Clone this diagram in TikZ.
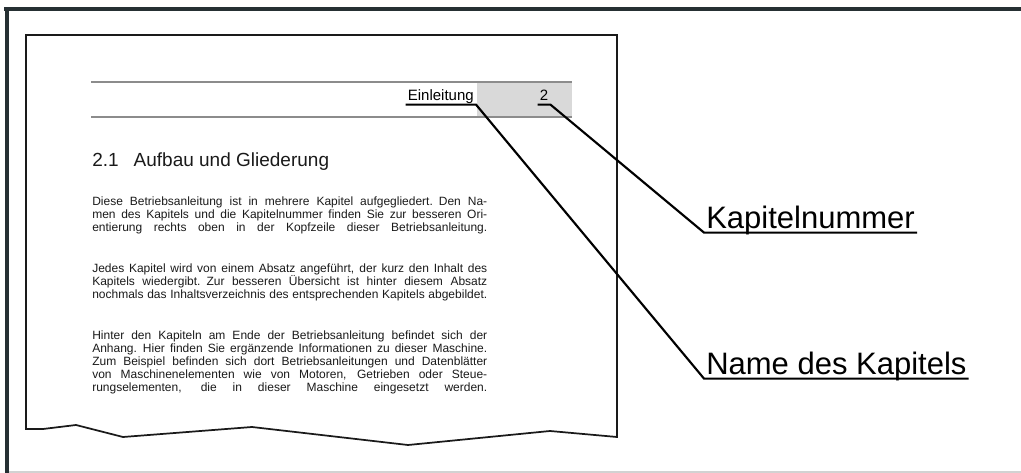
\documentclass[tikz,border=0pt]{standalone}
\usepackage{fontspec}
\setmainfont{Liberation Sans}
\usepackage{xcolor}
\definecolor{framegray}{HTML}{263033}
\definecolor{rulegray}{HTML}{8C8C8C}
\definecolor{boxgray}{HTML}{D9D9D9}
\definecolor{textgray}{HTML}{1A1A1A}
\newcommand{\jline}[1]{\hbox to 296.25pt{\spaceskip=0.26em plus 4em minus 0.04em\relax #1}\par}
\newcommand{\bodyfont}{\fontsize{9pt}{9.75pt}\selectfont\lineskiplimit=-20pt}

\begin{document}
\begin{tikzpicture}[x=0.75pt,y=-0.75pt,
  tagtext/.style={draw=none, inner xsep=0.15em, inner ysep=0.25em, text depth=0pt},
  leader/.style={line width=1.6pt, black},
  bodytext/.style={anchor=north west, inner sep=0pt, text width=296.25pt, text=textgray, font=\bodyfont}]
\useasboundingbox (0,0) rectangle (1021,473);
%%%%%%%%%%%%%%%%%%%
\fill[framegray] (4,7) rectangle (1021,11);
\fill[framegray] (5,7) rectangle (9,473);
\draw[gray!35, line width=1.5pt] (9,472) -- (1021,472);
\draw[line width=1.3pt, textgray] (26,429) -- (26,35) -- (617,35) -- (617,437) -- (550,431) -- (408,445)
  -- (252,427) -- (123,437) -- (76,425) -- (43,429) -- cycle;

%%%%%%%%%%%%%%%%%%%
\fill[boxgray] (477,82) rectangle (572,117);
\draw[rulegray, line width=0.9pt] (91,82) -- (572,82);
\draw[rulegray, line width=0.9pt] (91,117) -- (572,117);
\node[tagtext, anchor=base east, font=\fontsize{11.25pt}{13pt}\selectfont] (einl) at (476,101) {Einleitung};
\node[tagtext, anchor=base, font=\fontsize{11.25pt}{13pt}\selectfont] (nr) at (544,101) {2};

%%%%%%%%%%%%%%%%%%%
\node[anchor=base west, inner sep=0pt, text=textgray, font=\fontsize{14.25pt}{17pt}\selectfont] (heading) at (92,167) {2.1\hspace{11.25pt}Aufbau und Gliederung};
\node[bodytext] (body1) at (92,196.5) {%
\jline{Diese Betriebsanleitung ist in mehrere Kapitel aufgegliedert. Den Na-}
\jline{men des Kapitels und die Kapitelnummer finden Sie zur besseren Ori-}
\jline{entierung rechts oben in der Kopfzeile dieser Betriebsanleitung.}};
\node[bodytext] (body2) at (92,263.5) {%
\jline{Jedes Kapitel wird von einem Absatz angeführt, der kurz den Inhalt des}
\jline{Kapitels wiedergibt. Zur besseren Übersicht ist hinter diesem Absatz}
\jline{nochmals das Inhaltsverzeichnis des entsprechenden Kapitels abgebildet.}};
\node[bodytext] (body3) at (92,330.5) {%
\jline{Hinter den Kapiteln am Ende der Betriebsanleitung befindet sich der}
\jline{Anhang. Hier finden Sie ergänzende Informationen zu dieser Maschine.}
\jline{Zum Beispiel befinden sich dort Betriebsanleitungen und Datenblätter}
\jline{von Maschinenelementen wie von Motoren, Getrieben oder Steue-}
\jline{rungselementen, die in dieser Maschine eingesetzt werden.}};

%%%%%%%%%%%%%%%%%%%
\node[tagtext, anchor=base west, font=\fontsize{23.25pt}{28pt}\selectfont] (kapnr) at (704,229) {Kapitelnummer};
\node[tagtext, anchor=base west, font=\fontsize{23.25pt}{28pt}\selectfont] (kapname) at (704,375) {Name des Kapitels};
\draw[leader] (einl.south west) -- (einl.south east) -- (kapname.south west) -- (kapname.south east);
\draw[leader] (nr.south west) -- (nr.south east) -- (kapnr.south west) -- (kapnr.south east);
\end{tikzpicture}
\end{document}
